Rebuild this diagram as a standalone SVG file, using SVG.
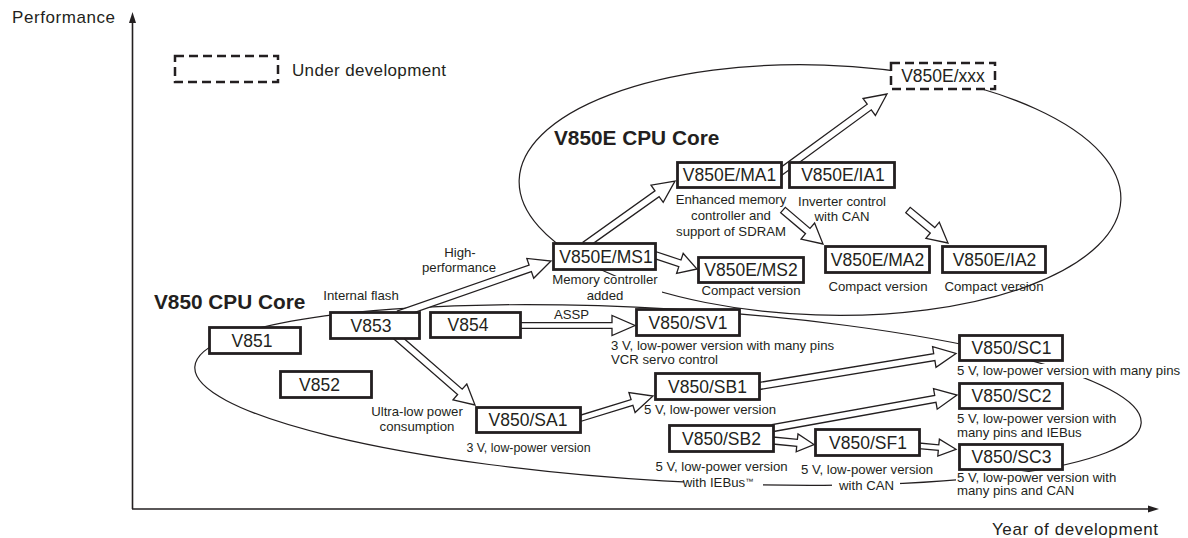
<svg xmlns="http://www.w3.org/2000/svg" width="1188" height="538" viewBox="0 0 1188 538">
<style>
.ax{stroke:#231f20;stroke-width:1.6;fill:none}
.ah{fill:#231f20}
.ell{fill:none;stroke:#231f20;stroke-width:1.2}
.arr{fill:#fff;stroke:#231f20;stroke-width:1.3;stroke-linejoin:miter}
.box{fill:#fff;stroke:#231f20;stroke-width:2.8}
.dash{fill:#fff;stroke:#231f20;stroke-width:2.5;stroke-dasharray:9 5}
.bl{font-family:'Liberation Sans',Arial,sans-serif;font-size:17.5px;fill:#231f20;text-anchor:middle}
.sm{font-family:'Liberation Sans',Arial,sans-serif;font-size:13.2px;fill:#231f20}
.c{text-anchor:middle}
.ttl{font-family:'Liberation Sans',Arial,sans-serif;font-size:20.8px;font-weight:bold;fill:#231f20}
.lg{font-family:'Liberation Sans',Arial,sans-serif;font-size:17px;fill:#231f20}
.msk{fill:#fff}
</style>
<rect width="1188" height="538" fill="#fff"/>
<g id="axes">
<line x1="132.5" y1="509" x2="132.5" y2="20" class="ax"/>
<polygon points="132.5,12 129,23 136,23" class="ah"/>
<line x1="132" y1="509" x2="1150" y2="509" class="ax"/>
<polygon points="1159,509 1148,505.5 1148,512.5" class="ah"/>
<text x="12" y="23.3" class="lg" textLength="103">Performance</text>
<text x="992" y="535" class="lg" textLength="166">Year of development</text>
</g>
<g id="legend">
<rect x="175" y="56" width="103" height="26" class="dash"/>
<text x="292" y="76" class="lg" textLength="154">Under development</text>
</g>
<g id="groups">
<ellipse cx="820" cy="190" rx="301" ry="125" transform="rotate(1.9 820 190)" class="ell"/>
<ellipse cx="668" cy="395" rx="474" ry="86" transform="rotate(3.4 668 395)" class="ell"/>
<text x="554" y="145" class="ttl">V850E CPU Core</text>
<text x="154" y="309.3" class="ttl">V850 CPU Core</text>
</g>
<g id="connectors">
<polygon class="arr" points="399.8,317.6 531.4,271.6 533.7,278.2 551,261 526.8,258.4 529.1,265 397.5,311"/>
<polygon class="arr" points="587,247.9 659.1,196.6 663.2,202.3 675,181 651,185.2 655,190.9 583,242.2"/>
<polygon class="arr" points="781.1,175.8 871.3,109.8 875.4,115.5 887,94 863,98.5 867.2,104.2 776.9,170.2"/>
<polygon class="arr" points="780.7,212.7 805.5,233.7 801,239.1 823,244 814.6,223.1 810,228.4 785.3,207.3"/>
<polygon class="arr" points="905.8,212.7 930.3,233 925.9,238.4 948,243 939.3,222.2 934.8,227.6 910.2,207.3"/>
<polygon class="arr" points="653.9,258.3 678.8,266.6 676.6,273.3 697,269 683.2,253.4 681,260 656.1,251.7"/>
<polygon class="arr" points="520,328.3 612,328.3 612,335.5 635,325.5 612,315.5 612,322.7 520,322.7"/>
<polygon class="arr" points="392.7,338 457.6,394.5 453,399.8 475,405 466.8,384 462.2,389.2 397.3,332.7"/>
<polygon class="arr" points="577.1,422.5 632.9,405.4 635.1,412.5 653,396 628.9,392.5 631.1,399.6 575.3,416.8"/>
<polygon class="arr" points="759.6,389.5 934.9,360.5 936,367.4 956,353.5 932.6,346.7 933.7,353.6 758.4,382.6"/>
<polygon class="arr" points="773.6,431.5 936,402.3 937.2,409.2 957,395 933.5,388.6 934.7,395.4 772.4,424.6"/>
<polygon class="arr" points="772.7,444 796.7,446.3 796.2,451.8 814,444.5 798,433.9 797.4,439.4 773.3,437"/>
<polygon class="arr" points="918.7,448.6 938.3,450.4 937.8,456.1 956,449.3 939.4,439.2 938.8,444.9 919.3,443"/>
<text x="361" y="300" class="sm c">Internal flash</text>
<text x="460" y="257" class="sm c">High-</text>
<text x="459" y="272" class="sm c">performance</text>
<text x="571.5" y="318.7" class="sm c">ASSP</text>
<text x="417" y="416" class="sm c">Ultra-low power</text>
<text x="417" y="431" class="sm c">consumption</text>
</g>
<g id="V851"><rect x="209.5" y="327.5" width="91" height="26" class="box"/><text x="252" y="346.8" class="bl">V851</text></g>
<g id="V852"><rect x="280.5" y="371.5" width="91" height="26" class="box"/><text x="319.5" y="390.8" class="bl">V852</text></g>
<g id="V853"><rect x="330.5" y="312.5" width="89" height="26" class="box"/><text x="371" y="331.8" class="bl">V853</text></g>
<g id="V854"><rect x="430.5" y="312.5" width="90" height="25" class="box"/><text x="468" y="331.3" class="bl">V854</text></g>
<g id="V850E-MS1"><rect x="553.5" y="243.5" width="102" height="26" class="box"/><text x="606" y="262.8" class="bl">V850E/MS1</text>
<rect x="549" y="276" width="113" height="27" class="msk"/>
<text x="605" y="284" class="sm c">Memory controller</text><text x="605" y="300" class="sm c">added</text></g>
<g id="V850E-MS2"><rect x="698.5" y="257.5" width="105" height="25" class="box"/><text x="751" y="276.3" class="bl">V850E/MS2</text>
<text x="751" y="295" class="sm c">Compact version</text></g>
<g id="V850E-MA1"><rect x="677.5" y="162.5" width="104" height="25" class="box"/><text x="729.5" y="181.3" class="bl">V850E/MA1</text>
<text x="731" y="203.5" class="sm c">Enhanced memory</text><text x="731" y="219.5" class="sm c">controller and</text><text x="731" y="235.5" class="sm c">support of SDRAM</text></g>
<g id="V850E-IA1"><rect x="789.5" y="162.5" width="105" height="25" class="box"/><text x="843" y="181.3" class="bl">V850E/IA1</text>
<text x="842" y="205.5" class="sm c">Inverter control</text><text x="842" y="221" class="sm c">with CAN</text></g>
<g id="V850E-xxx"><rect x="891" y="63" width="104" height="26" class="dash"/><text x="943" y="82.3" class="bl">V850E/xxx</text></g>
<g id="V850E-MA2"><rect x="825.5" y="246.5" width="104" height="26" class="box"/><text x="877.5" y="265.8" class="bl">V850E/MA2</text>
<text x="878" y="291" class="sm c">Compact version</text></g>
<g id="V850E-IA2"><rect x="942.5" y="246.5" width="103" height="26" class="box"/><text x="994.5" y="265.8" class="bl">V850E/IA2</text>
<text x="994" y="291" class="sm c">Compact version</text></g>
<g id="V850-SV1"><rect x="636.5" y="309.5" width="103" height="26" class="box"/><text x="688" y="328.8" class="bl">V850/SV1</text>
<text x="611" y="350" class="sm">3 V, low-power version with many pins</text><text x="611" y="363.5" class="sm">VCR servo control</text></g>
<g id="V850-SA1"><rect x="476.5" y="407.5" width="104" height="25" class="box"/><text x="528" y="426.3" class="bl">V850/SA1</text>
<text x="528.5" y="451.5" class="sm c" style="font-size:12.4px">3 V, low-power version</text></g>
<g id="V850-SB1"><rect x="655.5" y="373.5" width="104" height="26" class="box"/><text x="707.5" y="392.8" class="bl">V850/SB1</text>
<text x="710" y="414" class="sm c">5 V, low-power version</text></g>
<g id="V850-SB2"><rect x="669.5" y="425.5" width="104" height="26" class="box"/><text x="721.5" y="444.8" class="bl">V850/SB2</text>
<text x="721.5" y="471" class="sm c">5 V, low-power version</text>
<rect x="684" y="476" width="79" height="14" class="msk"/>
<text x="718" y="486.5" class="sm c">with IEBus<tspan dy="-3" style="font-size:8px">™</tspan></text></g>
<g id="V850-SF1"><rect x="815.5" y="429.5" width="104" height="26" class="box"/><text x="868" y="448.8" class="bl">V850/SF1</text>
<text x="867" y="474" class="sm c">5 V, low-power version</text>
<rect x="832" y="479" width="68" height="13" class="msk"/>
<text x="866.5" y="490" class="sm c">with CAN</text></g>
<g id="V850-SC1"><rect x="959.5" y="335.5" width="103" height="25" class="box"/><text x="1011.5" y="354.3" class="bl">V850/SC1</text>
<rect x="956" y="364" width="229" height="14" class="msk"/>
<text x="957" y="375" class="sm">5 V, low-power version with many pins</text></g>
<g id="V850-SC2"><rect x="959.5" y="383.5" width="103" height="25" class="box"/><text x="1011.5" y="402.3" class="bl">V850/SC2</text>
<text x="957" y="423" class="sm">5 V, low-power version with</text><text x="957" y="436.5" class="sm">many pins and IEBus</text></g>
<g id="V850-SC3"><rect x="959.5" y="444.5" width="103" height="25" class="box"/><text x="1011.5" y="463.3" class="bl">V850/SC3</text>
<rect x="956" y="472" width="165" height="28" class="msk"/>
<text x="957" y="481.5" class="sm">5 V, low-power version with</text><text x="957" y="495" class="sm">many pins and CAN</text></g>
</svg>
